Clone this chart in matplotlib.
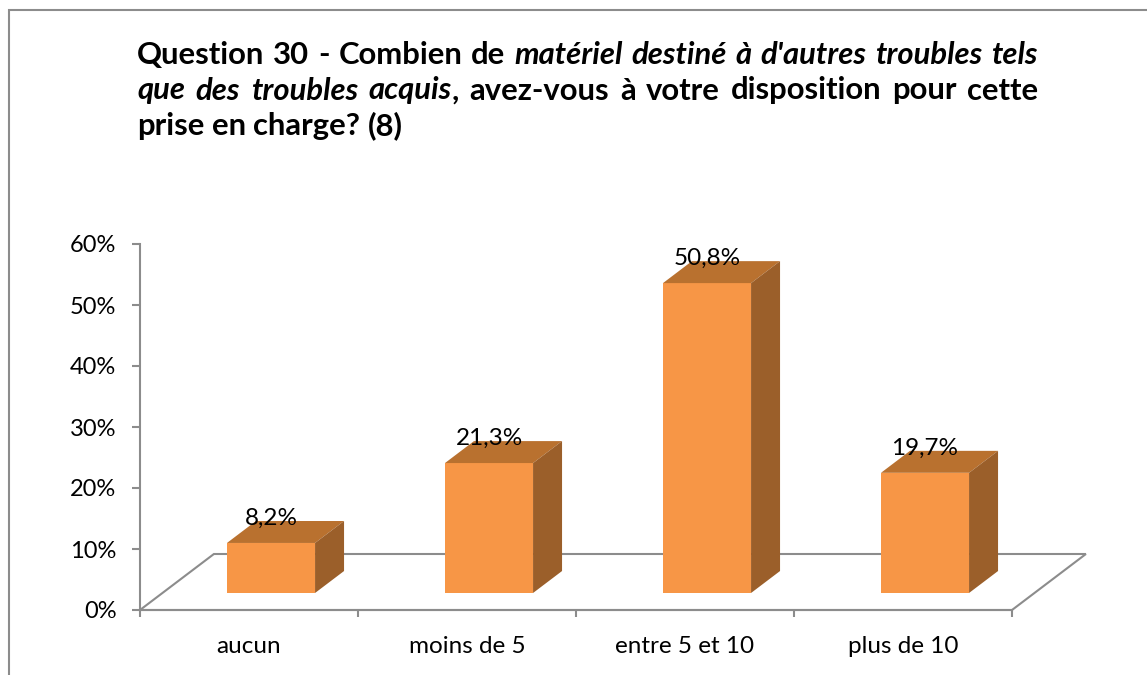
import matplotlib
matplotlib.use("Agg")
import matplotlib.pyplot as plt
from matplotlib.patches import Polygon, Rectangle

categories = ["aucun", "moins de 5", "entre 5 et 10", "plus de 10"]
values = [8.2, 21.3, 50.8, 19.7]
labels = ["8,2%", "21,3%", "50,8%", "19,7%"]
yticks = [0, 10, 20, 30, 40, 50, 60]

# title words: (text, italic, glued to previous word)
title_lines = [
    [("Question", False, False), ("30", False, False), ("-", False, False),
     ("Combien", False, False), ("de", False, False), ("matériel", True, False),
     ("destiné", True, False), ("à", True, False), ("d'autres", True, False),
     ("troubles", True, False), ("tels", True, False)],
    [("que", True, False), ("des", True, False), ("troubles", True, False),
     ("acquis", True, False), (",", False, True), ("avez-vous", False, False),
     ("à", False, False), ("votre", False, False), ("disposition", False, False),
     ("pour", False, False), ("cette", False, False)],
    [("prise", False, False), ("en", False, False), ("charge?", False, False),
     ("(8)", False, False)],
]

FONT = "Lato"
GRAY = "#8c8c8c"
FRONT = "#f79646"
TOP = "#b9712f"
SIDE = "#9b5f2a"

W, H = 1147, 675
fig = plt.figure(figsize=(W / 100, H / 100), dpi=100)

# outer frame
fig.add_artist(Rectangle((9 / W, -0.01), 1.2, (H - 10) / H + 0.01,
                         transform=fig.transFigure, fill=False,
                         edgecolor=GRAY, linewidth=1.5))

# plot area: x in category units (0..4), y in percent (0..60)
ax = fig.add_axes([140 / W, (H - 610) / H, 872 / W, 366 / H])
ax.set_xlim(0, len(categories))
ax.set_ylim(0, 60)
for s in ["top", "right", "bottom"]:
    ax.spines[s].set_visible(False)
ax.spines["left"].set_color(GRAY)
ax.spines["left"].set_linewidth(1.5)

ax.set_yticks(yticks)
ax.set_yticklabels([f"{t}%" for t in yticks], fontsize=17, family=FONT)
ax.tick_params(axis="y", length=6, width=1.5, color=GRAY, pad=11)
ax.set_xticks(range(len(categories) + 1))
ax.set_xticklabels([])
ax.tick_params(axis="x", length=5, width=1.5, color=GRAY)
for i, c in enumerate(categories):
    ax.text(i + 0.5, -7.05, c, ha="center", va="baseline", fontsize=17.5,
            family=FONT, clip_on=False)

# floor (oblique depth)
fdx, fdy = 0.339, 9.18
n = len(categories)
floor = Polygon([(0, 0), (fdx, fdy), (n + fdx, fdy), (n, 0)], closed=True,
                fill=False, edgecolor=GRAY, linewidth=1.5, clip_on=False,
                zorder=1)
ax.add_patch(floor)
ax.plot([0, n], [0, 0], color=GRAY, lw=1.5, clip_on=False, zorder=1)

# 3d bars
bw = 0.404
ox, oy = 0.101, 2.79   # front face offset into the depth
bdx, bdy = 0.133, 3.6  # bar depth
for i, v in enumerate(values):
    x0 = i + 0.5 + ox - bw / 2
    x1 = x0 + bw
    y0 = oy
    y1 = oy + v
    front = Polygon([(x0, y0), (x1, y0), (x1, y1), (x0, y1)],
                    facecolor=FRONT, edgecolor="none", clip_on=False, zorder=3)
    top = Polygon([(x0, y1), (x1, y1), (x1 + bdx, y1 + bdy), (x0 + bdx, y1 + bdy)],
                  facecolor=TOP, edgecolor="none", clip_on=False, zorder=3)
    side = Polygon([(x1, y0), (x1 + bdx, y0 + bdy), (x1 + bdx, y1 + bdy), (x1, y1)],
                   facecolor=SIDE, edgecolor="none", clip_on=False, zorder=3)
    for p in (front, top, side):
        ax.add_patch(p)
    ax.text(i + 0.5 + ox, v + oy + 4.0, labels[i], ha="center", va="center",
            fontsize=17.5, family=FONT, zorder=5, clip_on=False)

# justified title
left, right = 137, 1038
baselines = [64, 99.5, 135]
renderer = fig.canvas.get_renderer()


def word_width(text, italic, size):
    t = fig.text(0, 0, text, fontsize=size, family=FONT, weight="bold",
                 style="italic" if italic else "normal")
    w = t.get_window_extent(renderer).width
    t.remove()
    return w


# pick the size that leaves ~9px between words on the first line
base = 20.0
first = title_lines[0]
w1 = sum(word_width(t, it, base) for t, it, g in first)
ngaps = sum(1 for t, it, g in first[1:] if not g)
tsize = base * (right - left - 9 * ngaps) / w1
space_w = word_width("a a", False, tsize) - word_width("aa", False, tsize)

for li, words in enumerate(title_lines):
    arts = []
    for text, italic, glued in words:
        t = fig.text(0, 1 - baselines[li] / H, text, fontsize=tsize,
                     family=FONT, weight="bold",
                     style="italic" if italic else "normal", va="baseline")
        arts.append((t, t.get_window_extent(renderer).width, glued))
    gaps = sum(1 for a in arts[1:] if not a[2])
    total = sum(a[1] for a in arts)
    if li < len(title_lines) - 1 and gaps:
        gap = (right - left - total) / gaps
    else:
        gap = space_w
    x = left
    for k, (t, w, glued) in enumerate(arts):
        if k > 0 and not glued:
            x += gap
        t.set_x(x / W)
        x += w

fig.savefig("out.png", dpi=100)
